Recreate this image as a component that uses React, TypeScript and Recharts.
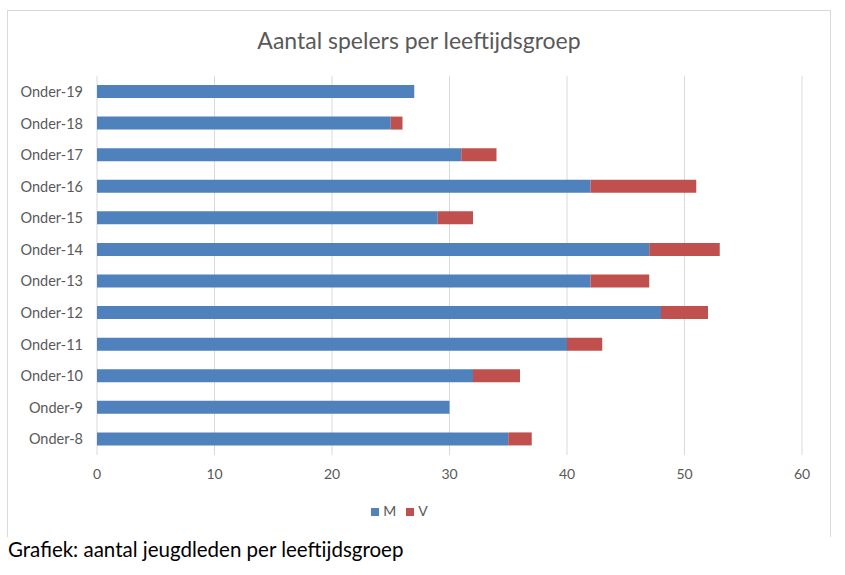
import { BarChart, Bar, XAxis, YAxis, CartesianGrid, Legend } from "recharts"

const groups = ["Onder-19", "Onder-18", "Onder-17", "Onder-16", "Onder-15", "Onder-14", "Onder-13", "Onder-12", "Onder-11", "Onder-10", "Onder-9", "Onder-8"]
const men = [27, 25, 31, 42, 29, 47, 42, 48, 40, 32, 30, 35]
const women = [0, 1, 3, 9, 3, 6, 5, 4, 3, 4, 0, 2]
const xTicks = [0, 10, 20, 30, 40, 50, 60]

const data = groups.map((g, i) => ({ group: g, M: men[i], V: women[i] }))

const font = "Lato, 'Open Sans', sans-serif"
const grey = "#595959"

export default function App() {
  return (
    <div style={{ position: "absolute", left: 0, top: 0, width: 845, height: 575, background: "#fff", fontFamily: font }}>
      <div
        style={{
          position: "absolute",
          left: 7,
          top: 10,
          width: 824,
          height: 527,
          borderTop: "1px solid #d9d9d9",
          borderLeft: "1px solid #d9d9d9",
          borderRight: "1px solid #d9d9d9",
          boxSizing: "border-box",
        }}
      >
        <div style={{ position: "absolute", left: 0, right: 0, top: 15, textAlign: "center", fontSize: 23, color: grey }}>
          Aantal spelers per leeftijdsgroep
        </div>
        <BarChart
          width={822}
          height={526}
          data={data}
          layout="vertical"
          barSize={13}
          margin={{ top: 65, right: 27, left: 0, bottom: 18 }}
          style={{ position: "absolute", left: -1, top: 0 }}
        >
          <CartesianGrid horizontal={false} stroke="#d9d9d9" />
          <XAxis
            type="number"
            domain={[0, 60]}
            ticks={xTicks}
            axisLine={false}
            tickLine={false}
            tickMargin={8}
            height={47}
            tick={{ fill: grey, fontSize: 14, fontFamily: font }}
          />
          <YAxis
            type="category"
            dataKey="group"
            width={90}
            axisLine={false}
            tickLine={false}
            tickMargin={8}
            tick={{ fill: grey, fontSize: 14.5, fontFamily: font }}
          />
          <Legend
            verticalAlign="bottom"
            iconType="square"
            iconSize={8}
            wrapperStyle={{ fontSize: 14, color: grey }}
            formatter={(v) => <span style={{ color: grey }}>{v}</span>}
          />
          <Bar dataKey="M" stackId="a" fill="#4f81bd" isAnimationActive={false} />
          <Bar dataKey="V" stackId="a" fill="#c0504d" isAnimationActive={false} />
        </BarChart>
      </div>
      <div style={{ position: "absolute", left: 8, top: 537, fontSize: 20.5, color: "#000" }}>
        Grafiek: aantal jeugdleden per leeftijdsgroep
      </div>
    </div>
  )
}
